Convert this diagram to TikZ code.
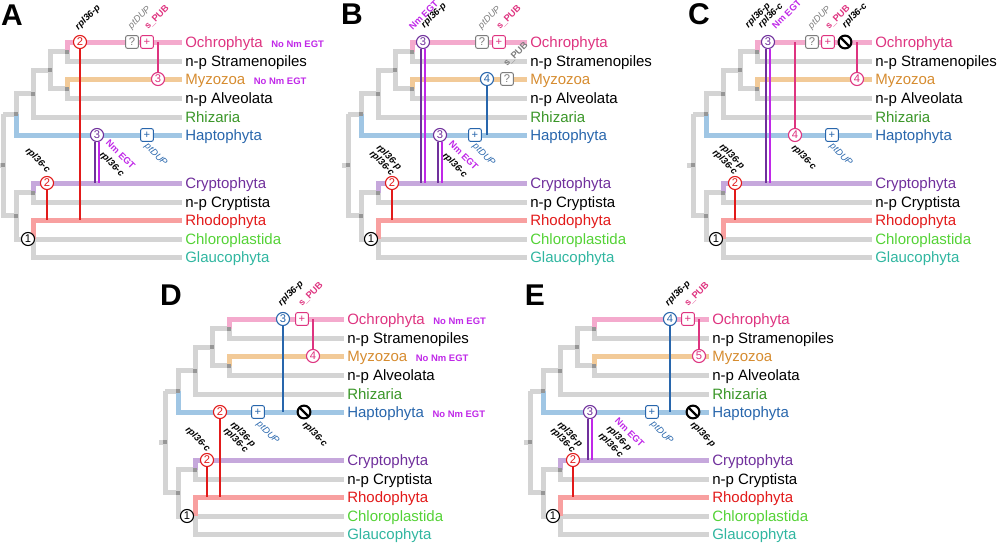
\documentclass[tikz,border=0pt]{standalone}
\usepackage{fontspec}
\setmainfont{Liberation Sans}

\definecolor{brgray}{RGB}{212,212,212}
\definecolor{dotgray}{RGB}{150,150,150}
\definecolor{brpink}{RGB}{244,170,205}
\definecolor{brorange}{RGB}{242,202,152}
\definecolor{brblue}{RGB}{160,198,228}
\definecolor{brpurple}{RGB}{198,168,220}
\definecolor{brred}{RGB}{248,160,160}
\definecolor{ochcol}{RGB}{222,52,128}
\definecolor{myzcol}{RGB}{214,140,48}
\definecolor{rhizcol}{RGB}{58,150,40}
\definecolor{hapcol}{RGB}{40,102,172}
\definecolor{crycol}{RGB}{112,48,156}
\definecolor{rhocol}{RGB}{226,26,26}
\definecolor{chlcol}{RGB}{84,210,54}
\definecolor{glacol}{RGB}{48,182,160}
\definecolor{egtcol}{RGB}{192,40,232}
\definecolor{qgray}{RGB}{125,125,125}

\tikzset{
  branch/.style={line width=3.75pt, draw=brgray},
  knot/.style={fill=dotgray},
  leaf/.style={anchor=base west, inner sep=0pt, font=\fontsize{11.25}{13}\selectfont},
  panel/.style={font=\fontsize{22.5}{24}\selectfont\bfseries, inner sep=0pt},
  num/.style={circle, draw=#1, text=#1, fill=white, line width=0.8pt, minimum size=9.8pt,
    inner sep=0pt, font=\fontsize{8.4}{9}\selectfont},
  qbox/.style={rectangle, rounded corners=1.5pt, draw=#1, text=#1, fill=white, line width=0.75pt,
    minimum size=9.6pt, inner sep=0pt, font=\fontsize{8.4}{9}\selectfont},
  nosign/.style={circle, draw=black, line width=1.6pt, fill=white, minimum size=9.6pt, inner sep=0pt,
    path picture={\draw[line width=1.6pt] (path picture bounding box.north west) -- (path picture bounding box.south east);}},
  link/.style={line width=1.1pt, draw=#1},
  tagup/.style={rotate=45, anchor=south west, inner sep=0pt},
  tagdn/.style={rotate=-45, anchor=north west, inner sep=0pt},
  rpltxt/.style={font=\fontsize{7}{8}\selectfont\bfseries\itshape},
  duptxt/.style={font=\fontsize{7}{8}\selectfont\itshape, text=#1},
  pubtxt/.style={font=\fontsize{7}{8}\selectfont\bfseries, text=#1},
  egttxt/.style={font=\fontsize{7}{8}\selectfont\bfseries, text=egtcol},
  noegt/.style={anchor=base west, inner sep=0pt, font=\fontsize{7.1}{8}\selectfont\bfseries, text=egtcol}
}

% the tree, drawn in panel coordinates; #1 = prefix of the names
\newcommand{\drawtree}[1]{%
  %Gray branches
  \draw[branch] (-3,165) -- (3,165);
  \draw[branch] (3,114) -- (3,215.5) -- (16,215.5);
  \draw[branch] (3,114) -- (16,114) -- (16,93.5) -- (33,93.5);
  \draw[branch] (50,70) -- (33,70) -- (33,117) -- (182,117);
  \draw[branch] (67,51.5) -- (50,51.5) -- (50,88.5) -- (67,88.5);
  \draw[branch] (67,51.5) -- (67,61) -- (182,61);
  \draw[branch] (67,88.5) -- (67,98) -- (182,98);
  \draw[branch] (33,192.5) -- (16,192.5) -- (16,239) -- (182,239);
  \draw[branch] (33,192.5) -- (33,202) -- (182,202);
  \draw[branch] (33,239) -- (33,257) -- (182,257);
  %Coloured branches
  \draw[branch,draw=brpink] (67,51.5) -- (67,42) -- (182,42);
  \draw[branch,draw=brorange] (67,88.5) -- (67,79) -- (182,79);
  \draw[branch,draw=brblue] (16,114) -- (16,135) -- (182,135);
  \draw[branch,draw=brpurple] (33,192.5) -- (33,183) -- (182,183);
  \draw[branch,draw=brred] (33,239) -- (33,220) -- (182,220);
  %Internal nodes
  \foreach \x/\y in {67/51.5,67/88.5,50/70,33/93.5,16/114,3/165,16/215.5,33/192.5}
    \fill[knot] (\x-2,\y-2) rectangle (\x+2,\y+2);
  %Branch ends
  \coordinate (#1-och) at (182,42);
  \coordinate (#1-myz) at (182,79);
  \coordinate (#1-hap) at (182,135);
  \coordinate (#1-cry) at (182,183);
  \coordinate (#1-rho) at (182,220);
  % Text Node
  \node[leaf,text=ochcol] (#1-och-t) at (185,47.3) {Ochrophyta};
  \node[leaf] (#1-str-t) at (185,66.3) {n-p Stramenopiles};
  \node[leaf,text=myzcol] (#1-myz-t) at (185,84.3) {Myzozoa};
  \node[leaf] (#1-alv-t) at (185,103.3) {n-p Alveolata};
  \node[leaf,text=rhizcol] (#1-rhi-t) at (185,122.3) {Rhizaria};
  \node[leaf,text=hapcol] (#1-hap-t) at (185,140.3) {Haptophyta};
  \node[leaf,text=crycol] (#1-cry-t) at (185,188.3) {Cryptophyta};
  \node[leaf] (#1-npc-t) at (185,207.3) {n-p Cryptista};
  \node[leaf,text=rhocol] (#1-rho-t) at (185,225.3) {Rhodophyta};
  \node[leaf,text=chlcol] (#1-chl-t) at (185,244.3) {Chloroplastida};
  \node[leaf,text=glacol] (#1-gla-t) at (185,262.3) {Glaucophyta};
}

\begin{document}
\begin{tikzpicture}[x=0.75pt,y=0.75pt,yscale=-1,xscale=1]
\useasboundingbox (0,0) rectangle (1000,543);

%% Panel A
\begin{scope}
\drawtree{a}
\node[panel] (a-lab) at (12,15) {A};
%Markers
\node[num=rhocol] (a2p) at (80,42) {2};
\node[qbox=qgray] (a-dup) at (132,42) {?};
\node[qbox=ochcol] (a-pub) at (147,42) {+};
\node[num=ochcol] (a3m) at (158,79) {3};
\node[num=crycol] (a3h) at (97,135) {3};
\node[qbox=hapcol] (a-duph) at (147,135) {+};
\node[num=rhocol] (a2c) at (47,183) {2};
\node[num=black] (a1) at (28,239) {1};
%Labels
\node[tagup,rpltxt] (a2p-l) at (80,32) {rpl36-p};
\node[tagup,duptxt=qgray] (a-dup-l) at (133,31) {ptDUP};
\node[tagup,pubtxt=ochcol] (a-pub-l) at (149,31) {s\_PUB};
\node[tagdn,egttxt] (a3h-l1) at (110,139) {Nm EGT};
\node[tagdn,rpltxt] (a3h-l2) at (104,150) {rpl36-c};
\node[tagdn,duptxt=hapcol] (a-duph-l) at (149,142) {ptDUP};
\node[tagdn,rpltxt] (a2c-l) at (30,146) {rpl36-c};
\node[noegt] (a-och-n) at ([xshift=6pt]a-och-t.base east) {No Nm EGT};
\node[noegt] (a-myz-n) at ([xshift=6pt]a-myz-t.base east) {No Nm EGT};
%Connectors
\draw[link=rhocol] (a2p) -- (a2p |- a-rho);
\draw[link=ochcol] (a3m) -- (a3m |- a-och);
\draw[link=crycol] ([xshift=-1.5pt]a3h.south) -- ([xshift=-1.5pt]a3h.south |- a-cry);
\draw[link=egtcol] ([xshift=1.5pt]a3h.south) -- ([xshift=1.5pt]a3h.south |- a-cry);
\draw[link=rhocol] (a2c) -- (a2c |- a-rho);
\end{scope}

%% Panel B
\begin{scope}[shift={(345,0)}]
\drawtree{b}
\node[panel] (b-lab) at (7,14) {B};
%Markers
\node[num=crycol] (b3o) at (78,42) {3};
\node[qbox=qgray] (b-dup) at (137,42) {?};
\node[qbox=ochcol] (b-pub) at (154,42) {+};
\node[num=hapcol] (b4m) at (142,79) {4};
\node[qbox=qgray] (b-pubm) at (162,79) {?};
\node[num=crycol] (b3h) at (95,135) {3};
\node[qbox=hapcol] (b-duph) at (130,135) {+};
\node[num=rhocol] (b2c) at (47,183) {2};
\node[num=black] (b1) at (26,239) {1};
%Labels
\node[tagup,egttxt] (b3o-l1) at (68,31) {Nm EGT};
\node[tagup,rpltxt] (b3o-l2) at (81,30) {rpl36-p};
\node[tagup,duptxt=qgray] (b-dup-l) at (138,31) {ptDUP};
\node[tagup,pubtxt=ochcol] (b-pub-l) at (156,31) {s\_PUB};
\node[tagup,pubtxt=qgray] (b-pubm-l) at (163,68) {s\_PUB};
\node[tagdn,egttxt] (b3h-l1) at (108,140) {Nm EGT};
\node[tagdn,rpltxt] (b3h-l2) at (102,151) {rpl36-c};
\node[tagdn,duptxt=hapcol] (b-duph-l) at (132,142) {ptDUP};
\node[tagdn,rpltxt] (b2c-l1) at (36,143) {rpl36-p};
\node[tagdn,rpltxt] (b2c-l2) at (29,149) {rpl36-c};
%Connectors
\draw[link=crycol] ([xshift=-1.5pt]b3o.south) -- ([xshift=-1.5pt]b3o.south |- b-cry);
\draw[link=egtcol] ([xshift=1.5pt]b3o.south) -- ([xshift=1.5pt]b3o.south |- b-cry);
\draw[link=hapcol] (b4m) -- (b4m |- b-hap);
\draw[link=crycol] ([xshift=-1.5pt]b3h.south) -- ([xshift=-1.5pt]b3h.south |- b-cry);
\draw[link=egtcol] ([xshift=1.5pt]b3h.south) -- ([xshift=1.5pt]b3h.south |- b-cry);
\draw[link=rhocol] (b2c) -- (b2c |- b-rho);
\end{scope}

%% Panel C
\begin{scope}[shift={(690,0)}]
\drawtree{c}
\node[panel] (c-lab) at (9,14) {C};
%Markers
\node[num=crycol] (c3o) at (78,42) {3};
\node[qbox=qgray] (c-dup) at (122,42) {?};
\node[qbox=ochcol] (c-pub) at (138,42) {+};
\node[nosign] (c-loss) at (155,42) {};
\node[num=ochcol] (c4m) at (167,79) {4};
\node[num=ochcol] (c4h) at (105,135) {4};
\node[qbox=hapcol] (c-duph) at (142,135) {+};
\node[num=rhocol] (c2c) at (45,183) {2};
\node[num=black] (c1) at (26,239) {1};
%Labels
\node[tagup,rpltxt] (c3o-l1) at (60,30) {rpl36-p};
\node[tagup,rpltxt] (c3o-l2) at (73,30) {rpl36-c};
\node[tagup,egttxt] (c3o-l3) at (86,30) {Nm EGT};
\node[tagup,duptxt=qgray] (c-dup-l) at (123,31) {ptDUP};
\node[tagup,pubtxt=ochcol] (c-pub-l) at (140,31) {s\_PUB};
\node[tagup,rpltxt] (c-loss-l) at (157,30) {rpl36-c};
\node[tagdn,rpltxt] (c4h-l) at (106,143) {rpl36-c};
\node[tagdn,duptxt=hapcol] (c-duph-l) at (144,142) {ptDUP};
\node[tagdn,rpltxt] (c2c-l1) at (34,142) {rpl36-p};
\node[tagdn,rpltxt] (c2c-l2) at (27,148) {rpl36-c};
%Connectors
\draw[link=crycol] ([xshift=-1.5pt]c3o.south) -- ([xshift=-1.5pt]c3o.south |- c-cry);
\draw[link=egtcol] ([xshift=1.5pt]c3o.south) -- ([xshift=1.5pt]c3o.south |- c-cry);
\draw[link=ochcol] (c4h) -- (c4h |- c-och);
\draw[link=ochcol] (c4m) -- (c4m |- c-och);
\draw[link=rhocol] (c2c) -- (c2c |- c-rho);
\end{scope}

%% Panel D
\begin{scope}[shift={(162,277)}]
\drawtree{d}
\node[panel] (d-lab) at (9,18) {D};
%Markers
\node[num=hapcol] (d3o) at (121,42) {3};
\node[qbox=ochcol] (d-pub) at (140,42) {+};
\node[num=ochcol] (d4m) at (151,79) {4};
\node[num=rhocol] (d2h) at (58,135) {2};
\node[qbox=hapcol] (d-duph) at (96,135) {+};
\node[nosign] (d-loss) at (142,135) {};
\node[num=rhocol] (d2c) at (45,183) {2};
\node[num=black] (d1) at (25,239) {1};
%Labels
\node[tagup,rpltxt] (d3o-l) at (121,31) {rpl36-p};
\node[tagup,pubtxt=ochcol] (d-pub-l) at (141,31) {s\_PUB};
\node[tagdn,rpltxt] (d2h-l1) at (73,143) {rpl36-p};
\node[tagdn,rpltxt] (d2h-l2) at (66,149) {rpl36-c};
\node[tagdn,duptxt=hapcol] (d-duph-l) at (99,143) {ptDUP};
\node[tagdn,rpltxt] (d-loss-l) at (145,143) {rpl36-c};
\node[tagdn,rpltxt] (d2c-l) at (28,148) {rpl36-c};
\node[noegt] (d-och-n) at ([xshift=6pt]d-och-t.base east) {No Nm EGT};
\node[noegt] (d-myz-n) at ([xshift=6pt]d-myz-t.base east) {No Nm EGT};
\node[noegt] (d-hap-n) at ([xshift=6pt]d-hap-t.base east) {No Nm EGT};
%Connectors
\draw[link=hapcol] (d3o) -- (d3o |- d-hap);
\draw[link=ochcol] (d4m) -- (d4m |- d-och);
\draw[link=rhocol] (d2h) -- (d2h |- d-rho);
\draw[link=rhocol] (d2c) -- (d2c |- d-rho);
\end{scope}

%% Panel E
\begin{scope}[shift={(527,277)}]
\drawtree{e}
\node[panel] (e-lab) at (8,18) {E};
%Markers
\node[num=hapcol] (e4o) at (143,42) {4};
\node[qbox=ochcol] (e-pub) at (161,42) {+};
\node[num=ochcol] (e5m) at (172,79) {5};
\node[num=crycol] (e3h) at (63,135) {3};
\node[qbox=hapcol] (e-duph) at (125,135) {+};
\node[nosign] (e-loss) at (166,135) {};
\node[num=rhocol] (e2c) at (46,183) {2};
\node[num=black] (e1) at (26,239) {1};
%Labels
\node[tagup,rpltxt] (e4o-l) at (143,31) {rpl36-p};
\node[tagup,pubtxt=ochcol] (e-pub-l) at (162,31) {s\_PUB};
\node[tagdn,egttxt] (e3h-l1) at (92,140) {Nm EGT};
\node[tagdn,rpltxt] (e3h-l2) at (84,147) {rpl36-p};
\node[tagdn,rpltxt] (e3h-l3) at (76,154) {rpl36-c};
\node[tagdn,duptxt=hapcol] (e-duph-l) at (128,143) {ptDUP};
\node[tagdn,rpltxt] (e-loss-l) at (168,143) {rpl36-p};
\node[tagdn,rpltxt] (e2c-l1) at (35,143) {rpl36-p};
\node[tagdn,rpltxt] (e2c-l2) at (28,149) {rpl36-c};
%Connectors
\draw[link=hapcol] (e4o) -- (e4o |- e-hap);
\draw[link=ochcol] (e5m) -- (e5m |- e-och);
\draw[link=crycol] ([xshift=-1.5pt]e3h.south) -- ([xshift=-1.5pt]e3h.south |- e-cry);
\draw[link=egtcol] ([xshift=1.5pt]e3h.south) -- ([xshift=1.5pt]e3h.south |- e-cry);
\draw[link=rhocol] (e2c) -- (e2c |- e-rho);
\end{scope}

\end{tikzpicture}
\end{document}
